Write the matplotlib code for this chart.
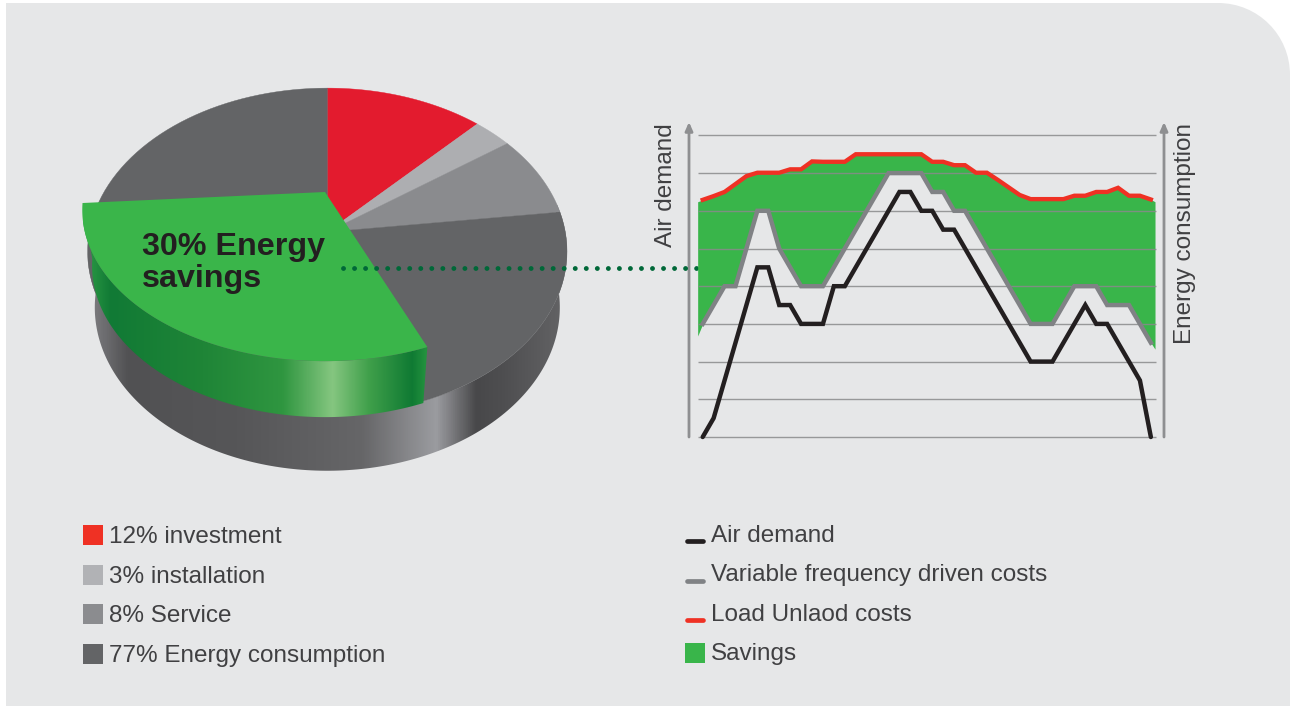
import numpy as np
import matplotlib
matplotlib.use('Agg')
import matplotlib.pyplot as plt
from matplotlib.colors import LinearSegmentedColormap
from matplotlib.patches import Polygon, PathPatch, Rectangle
from matplotlib.path import Path

plt.rcParams['font.family'] = ['Liberation Sans', 'DejaVu Sans']

# pie shares, clockwise from the top
pie_shares = [12, 3, 8, 77]
pie_colors = ['#e31b2e', '#adaeb1', '#8a8b8e', '#636466']
savings_share = 30

# line chart, one value per step on the grid scale
steps = list(range(42))
air_demand = [0, 0.5, 1.5, 2.5, 3.5, 4.5, 4.5, 3.5, 3.5, 3, 3, 3, 4, 4, 4.5, 5, 5.5, 6, 6.5, 6.5, 6,
              6, 5.5, 5.5, 5, 4.5, 4, 3.5, 3, 2.5, 2, 2, 2, 2.5, 3, 3.5, 3, 3, 2.5, 2, 1.5, 0]
vfd_costs = [3, 3.5, 4, 4, 5, 6, 6, 5, 4.5, 4, 4, 4, 4.5, 5, 5.5, 6, 6.5, 7, 7, 7, 7,
             6.5, 6.5, 6, 6, 5.5, 5, 4.5, 4, 3.5, 3, 3, 3, 3.5, 4, 4, 4, 3.5, 3.5, 3.5, 3, 2.5]
load_unload = [6.29, 6.39, 6.5, 6.71, 6.92, 7.01, 7.01, 7.01, 7.1, 7.1, 7.31, 7.3, 7.3, 7.3, 7.5, 7.5,
               7.5, 7.5, 7.5, 7.5, 7.5, 7.3, 7.3, 7.21, 7.21, 7.01, 7.01, 6.82, 6.62, 6.42, 6.31,
               6.31, 6.31, 6.31, 6.4, 6.4, 6.5, 6.5, 6.61, 6.4, 6.4, 6.3]
grid_levels = list(range(9))

# the green band runs a little past both ends of the lines
band_x = [-0.46] + steps + [41.38]
band_top = [6.24] + load_unload + [6.24]
band_bottom = [2.68] + vfd_costs + [2.33]

pie_legend = ['12% investment', '3% installation', '8% Service', '77% Energy consumption']
pie_legend_colors = ['#ef3124', '#b1b2b5', '#8b8c8f', '#636466']
line_legend = ['Air demand', 'Variable frequency driven costs', 'Load Unlaod costs', 'Savings']
line_legend_colors = ['#231f20', '#808285', '#ef3124', '#39b54a']

BG = '#e6e7e8'
TEXT = '#404042'
AXIS = '#8e8f91'
LABEL_SIZE = 17.45


def project(theta, cx=327.3, cy=232.0, a=238.0, b=161.0, k=0.119):
    """Perspective view of a unit disc, theta in degrees clockwise from the top."""
    t = np.radians(theta)
    x = np.sin(t)
    y = np.cos(t)
    w = 1 + k * y
    return cx + a * x / w, cy - b * y / w


def gradient_fill(ax, xy, stops, zorder):
    x0 = stops[0][0]
    x1 = stops[-1][0]
    cmap = LinearSegmentedColormap.from_list('wall', [((s[0] - x0) / (x1 - x0), s[1]) for s in stops])
    poly = Polygon(xy, closed=True, transform=ax.transData)
    im = ax.imshow(np.linspace(0, 1, 800)[None, :], cmap=cmap, aspect='auto', zorder=zorder,
                   extent=(x0, x1, float(np.max(xy[:, 1])) + 1, float(np.min(xy[:, 1])) - 1))
    im.set_clip_path(poly)


def wall(theta0, theta1, depth, scale, **kw):
    th = np.linspace(theta0, theta1, 200)
    x, y = project(th, **kw)
    low_x = 327.3 + (x - 327.3) * scale
    low_y = y + depth
    return np.column_stack([np.r_[x, low_x[::-1]], np.r_[y, low_y[::-1]]])


fig = plt.figure(figsize=(12.9, 7.06), dpi=100, facecolor='white')
ax = fig.add_axes([0, 0, 1, 1])
ax.set_xlim(0, 1290)
ax.set_ylim(706, 0)
ax.axis('off')

# panel with the rounded corner top right
panel = Path([(6, 706), (6, 3), (1218, 3), (1258, 3), (1290, 35), (1290, 75), (1290, 706), (6, 706)],
             [Path.MOVETO, Path.LINETO, Path.LINETO, Path.CURVE4, Path.CURVE4, Path.CURVE4,
              Path.LINETO, Path.CLOSEPOLY])
ax.add_patch(PathPatch(panel, facecolor=BG, edgecolor='none', zorder=0))

# pie body
body_stops = [(88, '#808083'), (127, '#515153'), (237, '#565658'), (363, '#666668'), (437, '#9b9ca0'),
              (477, '#48484a'), (503, '#4e4e50'), (570, '#656567')]
gradient_fill(ax, wall(80, 280, 56, 0.97), body_stops, 1)

# pie top
start = 0
for share, color in zip(pie_shares, pie_colors):
    sweep = share * 3.6
    th = np.linspace(start, start + sweep, 120)
    x, y = project(th)
    ax.fill(np.r_[327.3, x], np.r_[232.0, y], facecolor=color, edgecolor=color, lw=0.3, zorder=2)
    start += sweep

# lifted savings slice
green_start = 157.8
green_end = green_start + savings_share * 3.6
green = dict(cx=325.0, cy=192.0, a=241.0, b=149.0, k=0.119)
green_stops = [(83, '#2f9e47'), (110, '#117a35'), (203, '#1f8537'), (283, '#2f9640'), (333, '#85c680'),
               (370, '#3f9f4a'), (413, '#0f7a33'), (431, '#2a9a42')]
gradient_fill(ax, wall(green_start, green_end, 56, 0.96, **green), green_stops, 3)
th = np.linspace(green_start, green_end, 200)
x, y = project(th, **green)
ax.fill(np.r_[325.0, x], np.r_[192.0, y], facecolor='#3ab54a', edgecolor='none', zorder=4)
ax.text(142, 255, '30% Energy', fontsize=23.2, fontweight='bold', color='#231f20', zorder=5)
ax.text(142, 287, 'savings', fontsize=23.2, fontweight='bold', color='#231f20', zorder=5)

# leader between the slice and the chart
ax.plot([343, 696.5], [267.7, 267.7], color='#006838', lw=3.5, ls=(0, (0.01, 2.26)),
        dash_capstyle='round', zorder=6)

# axis arrows and their labels
for ax_x in [689, 1164]:
    ax.annotate('', xy=(ax_x, 122), xytext=(ax_x, 437), zorder=1,
                arrowprops=dict(arrowstyle='-|>,head_width=0.22,head_length=0.5', color=AXIS, lw=2,
                                shrinkA=0, shrinkB=0))
ax.text(666, 185.5, 'Air demand', rotation=90, fontsize=LABEL_SIZE, color=TEXT, ha='center', va='center')
ax.text(1185, 233.5, 'Energy consumption', rotation=90, fontsize=LABEL_SIZE, color=TEXT, ha='center', va='center')

# legends
for label, color, ypx in zip(pie_legend, pie_legend_colors, [525, 565, 604, 644]):
    ax.add_patch(Rectangle((83, ypx), 20, 20, facecolor=color, edgecolor='none'))
    ax.text(109, ypx + 12, label, fontsize=LABEL_SIZE, color=TEXT, va='center')
for i, (label, color, ypx) in enumerate(zip(line_legend, line_legend_colors, [541, 580.5, 620, 653])):
    if i < 3:
        ax.plot([687, 703], [ypx, ypx], color=color, lw=3.4, solid_capstyle='round')
    else:
        ax.add_patch(Rectangle((685, 643), 20, 20, facecolor=color, edgecolor='none'))
    ax.text(711, [536, 575, 615, 654][i], label, fontsize=LABEL_SIZE, color=TEXT, va='center')
ax.set_xlim(0, 1290)
ax.set_ylim(706, 0)

# line chart axes, placed so that grid level 0 and 8 fall on the outer rules
chart = fig.add_axes([697.7 / 1290, 1 - 437 / 706, (1156 - 697.7) / 1290, (437 - 135.4) / 706])
chart.set_xlim(-0.457, 41.47)
chart.set_ylim(0, 8)
chart.axis('off')
chart.fill_between(band_x, band_bottom, band_top, color='#39b54a', lw=0, zorder=1)
chart.hlines(grid_levels, -0.457, 41.47, color='#8a8a8c', lw=1.0, alpha=0.85, zorder=2, clip_on=False)
chart.plot(steps, vfd_costs, color='#808285', lw=3.2, solid_joinstyle='miter', zorder=3, clip_on=False)
chart.plot(steps, load_unload, color='#ef3124', lw=3.1, solid_joinstyle='miter', zorder=3, clip_on=False)
chart.plot(steps, air_demand, color='#231f20', lw=3.2, solid_joinstyle='miter', solid_capstyle='round',
           zorder=4, clip_on=False)

fig.savefig('out.png', dpi=100, facecolor='white')
